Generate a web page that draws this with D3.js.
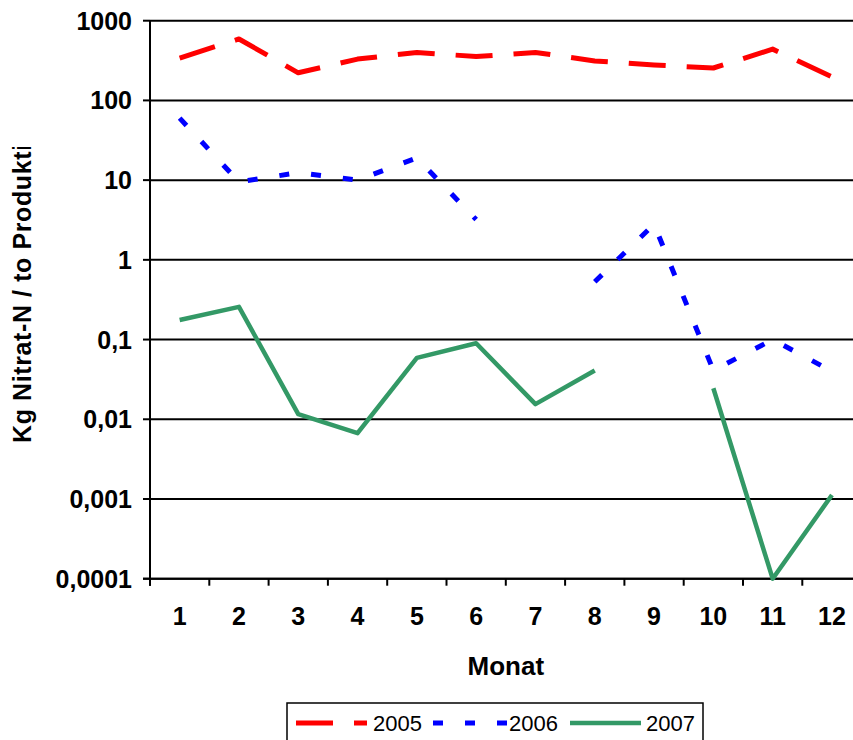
<!DOCTYPE html>
<html lang="de">
<head>
  <meta charset="UTF-8">
  <title>Kg Nitrat-N / to Produktion</title>
  <script src="https://d3js.org/d3.v7.min.js"></script>
  <style>
    body {
      margin: 0;
      overflow: hidden;
      background: #fff;
      font-family: "Liberation Sans", Arial, sans-serif;
    }
    .tick-label {
      font-size: 25px;
      font-weight: bold;
      fill: #000;
    }
    .axis-title {
      font-size: 26px;
      font-weight: bold;
      fill: #000;
    }
    .legend-text {
      font-size: 22px;
      fill: #000;
    }
  </style>
</head>
<body>
<svg width="853" height="740"></svg>
<script>
  // months on the x axis
  const months = [1, 2, 3, 4, 5, 6, 7, 8, 9, 10, 11, 12];

  // values (null = no value)
  const v2005 = [340, 590, 222, 330, 400, 355, 400, 313, 278, 255, 440, 197];
  const v2006 = [60, 9.5, 12.4, 10, 19, 3.2, null, 0.53, 2.8, 0.041, 0.1, 0.04];
  const v2007 = [0.176, 0.257, 0.0116, 0.0067, 0.059, 0.09, 0.0155, 0.041, null, 0.0245, 0.0001, 0.00112];

  const yTicks = [0.0001, 0.001, 0.01, 0.1, 1, 10, 100, 1000];
  const yTickLabels = ["0,0001", "0,001", "0,01", "0,1", "1", "10", "100", "1000"];

  const series = [
    { name: "2005", values: v2005, color: "#ff0000", width: 5, dash: "37 21" },
    { name: "2006", values: v2006, color: "#0000ff", width: 5, dash: "10 22" },
    { name: "2007", values: v2007, color: "#339966", width: 4.5, dash: null }
  ];

  const pLeft = 150, pRight = 861.6, pTop = 20.7, pBottom = 578.7;

  const svg = d3.select("svg");

  const x = d3.scaleBand().domain(months).range([pLeft, pRight]);
  const y = d3.scaleLog().domain([0.0001, 1000]).range([pBottom, pTop]);
  const cx = m => x(m) + x.bandwidth() / 2;

  // gridlines
  svg.append("g")
    .selectAll("line")
    .data(yTicks)
    .join("line")
    .attr("x1", pLeft)
    .attr("x2", pRight)
    .attr("y1", d => y(d))
    .attr("y2", d => y(d))
    .attr("stroke", "#000")
    .attr("stroke-width", 2);

  // y axis
  const yAxis = svg.append("g");
  yAxis.append("line")
    .attr("x1", pLeft).attr("x2", pLeft)
    .attr("y1", pTop).attr("y2", pBottom + 7)
    .attr("stroke", "#000").attr("stroke-width", 2);
  yAxis.selectAll("line.tk")
    .data(yTicks)
    .join("line")
    .attr("class", "tk")
    .attr("x1", pLeft - 7).attr("x2", pLeft)
    .attr("y1", d => y(d)).attr("y2", d => y(d))
    .attr("stroke", "#000").attr("stroke-width", 2);
  yAxis.selectAll("text")
    .data(yTicks)
    .join("text")
    .attr("class", "tick-label")
    .attr("x", 132)
    .attr("y", d => y(d) + 9)
    .attr("text-anchor", "end")
    .text((d, i) => yTickLabels[i]);

  // x axis
  const xAxis = svg.append("g");
  xAxis.append("line")
    .attr("x1", pLeft - 7).attr("x2", pRight)
    .attr("y1", pBottom).attr("y2", pBottom)
    .attr("stroke", "#000").attr("stroke-width", 2);
  const edges = months.map(m => x(m)).concat([x(12) + x.bandwidth()]);
  xAxis.selectAll("line.tk")
    .data(edges)
    .join("line")
    .attr("class", "tk")
    .attr("x1", d => d).attr("x2", d => d)
    .attr("y1", pBottom).attr("y2", pBottom + 7)
    .attr("stroke", "#000").attr("stroke-width", 2);
  xAxis.selectAll("text")
    .data(months)
    .join("text")
    .attr("class", "tick-label")
    .attr("x", d => cx(d))
    .attr("y", 625)
    .attr("text-anchor", "middle")
    .text(d => d);

  // axis titles
  svg.append("text")
    .attr("class", "axis-title")
    .attr("x", (pLeft + pRight) / 2)
    .attr("y", 675)
    .attr("text-anchor", "middle")
    .text("Monat");

  // y title is cut off at the top in the original
  svg.append("defs").append("clipPath")
    .attr("id", "ytitle-clip")
    .append("rect")
    .attr("x", 0).attr("y", 147).attr("width", 60).attr("height", 400);

  svg.append("g")
    .attr("clip-path", "url(#ytitle-clip)")
    .append("text")
    .attr("class", "axis-title")
    .attr("transform", "translate(31,443) rotate(-90)")
    .style("font-size", "25px")
    .style("letter-spacing", "0.6px")
    .text("Kg Nitrat-N / to Produktion");

  // lines
  const line = d3.line()
    .defined(d => d.v != null)
    .x(d => cx(d.m))
    .y(d => y(d.v));

  svg.append("g")
    .selectAll("path")
    .data(series)
    .join("path")
    .attr("d", s => line(s.values.map((v, i) => ({ m: months[i], v }))))
    .attr("fill", "none")
    .attr("stroke", s => s.color)
    .attr("stroke-width", s => s.width)
    .attr("stroke-dasharray", s => s.dash)
    .attr("stroke-linejoin", "round");

  // legend
  const legend = svg.append("g");
  legend.append("rect")
    .attr("x", 287).attr("y", 703)
    .attr("width", 416).attr("height", 50)
    .attr("fill", "#fff")
    .attr("stroke", "#000")
    .attr("stroke-width", 1.5);

  const legendPos = [
    { x1: 296, x2: 367, tx: 373 },
    { x1: 433, x2: 507, tx: 509 },
    { x1: 570, x2: 641, tx: 646 }
  ];

  series.forEach((s, i) => {
    const p = legendPos[i];
    legend.append("line")
      .attr("x1", p.x1).attr("x2", p.x2)
      .attr("y1", 723).attr("y2", 723)
      .attr("stroke", s.color)
      .attr("stroke-width", s.width)
      .attr("stroke-dasharray", s.dash);
    legend.append("text")
      .attr("class", "legend-text")
      .attr("x", p.tx)
      .attr("y", 731)
      .text(s.name);
  });
</script>
</body>
</html>
